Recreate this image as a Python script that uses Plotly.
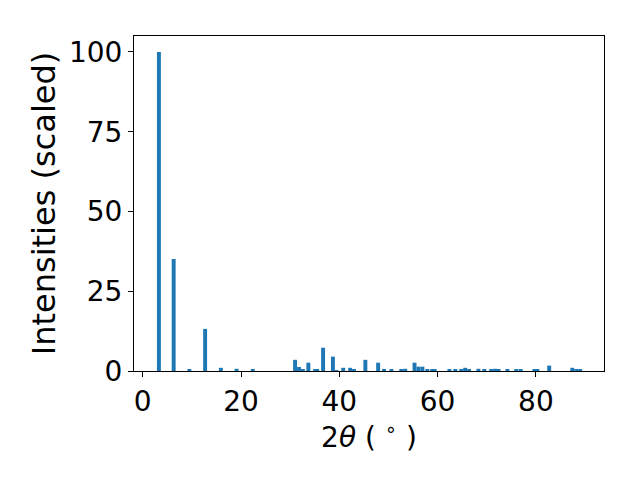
import plotly.graph_objects as go

two_theta = [3.3, 6.3, 9.5, 12.7, 15.9, 19.1, 22.4, 31.0, 31.8, 32.6, 33.7, 35.1, 35.5,
             36.7, 38.7, 39.4, 40.8, 42.2, 43.0, 45.3, 47.9, 49.1, 50.6, 52.6, 53.4,
             55.3, 56.1, 56.9, 57.9, 58.9, 59.4, 62.4, 63.6, 64.8, 65.6, 66.4, 68.3,
             69.5, 70.9, 71.7, 72.4, 74.2, 76.0, 76.9, 79.7, 80.3, 82.7, 87.4, 88.2, 89.0]
intensity = [100, 35.1, 0.4, 13.2, 1.0, 0.7, 0.4, 3.5, 1.25, 0.4, 2.6, 0.4, 0.4,
             7.3, 4.5, 0.3, 1.0, 1.0, 0.4, 3.5, 2.6, 0.4, 0.4, 0.4, 0.7,
             2.6, 1.35, 1.35, 0.4, 0.4, 0.4, 0.4, 0.4, 0.4, 1.0, 0.4, 0.7,
             0.4, 0.4, 0.7, 0.4, 0.4, 0.4, 0.4, 0.4, 0.4, 1.7, 1.0, 0.4, 0.4]
x_ticks = [0, 20, 40, 60, 80]
y_ticks = [0, 25, 50, 75, 100]

fig = go.Figure(go.Bar(x=two_theta, y=intensity, width=0.8,
                       marker=dict(color="#1f77b4", line=dict(width=0))))

font = "DejaVu Sans"
axis_common = dict(showline=True, linecolor="black", linewidth=1.1, mirror=True,
                   ticks="outside", ticklen=5, tickwidth=1.1, tickcolor="black",
                   showgrid=False, zeroline=False, automargin=False,
                   tickfont=dict(family=font, size=28, color="black"))

fig.update_layout(
    width=640, height=480,
    margin=dict(l=126, r=44, t=28, b=117),
    paper_bgcolor="white", plot_bgcolor="white",
    showlegend=False,
    xaxis=dict(range=[-1.77, 93.85], tickvals=x_ticks,
               title=dict(text="2<i>θ</i> ( <sup>∘</sup> )",
                          font=dict(family=font, size=28, color="black"), standoff=0),
               **axis_common),
    yaxis=dict(range=[0, 105], tickvals=y_ticks,
               title=dict(text="Intensities (scaled)",
                          font=dict(family=font, size=32, color="black"), standoff=3),
               **axis_common),
)

fig.write_html("out.html")
